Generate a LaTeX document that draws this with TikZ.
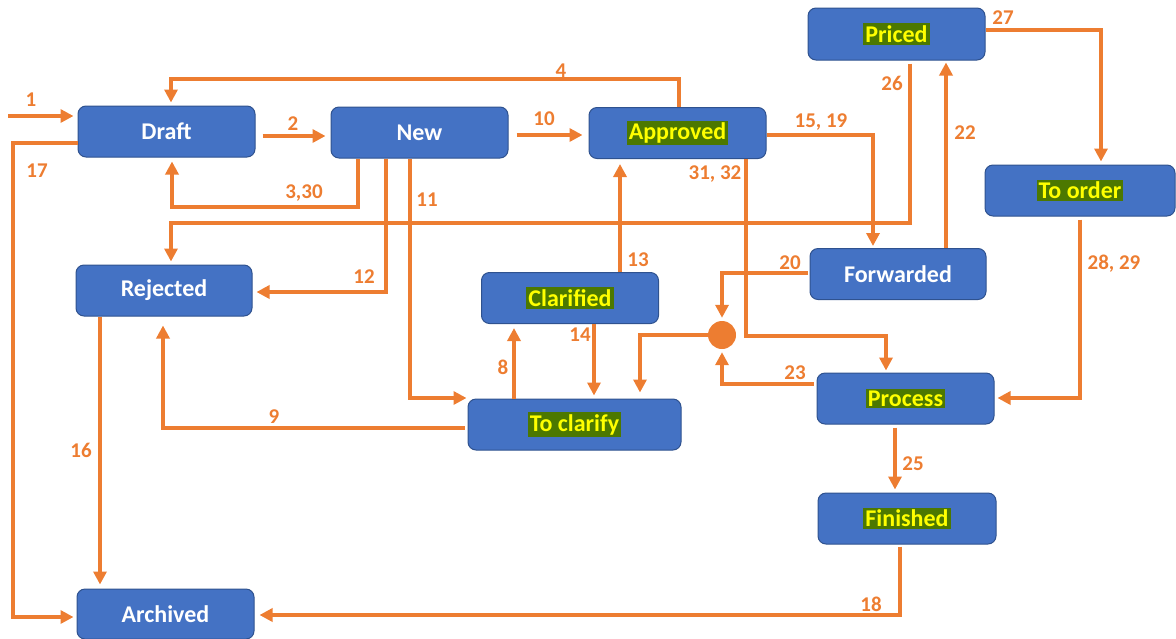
\documentclass[tikz,border=0pt]{standalone}
\usepackage{fontspec}
\setmainfont{Carlito}
\usetikzlibrary{arrows.meta}
\definecolor{orng}{HTML}{ED7D31}
\definecolor{boxblue}{HTML}{4472C4}
\definecolor{boxedge}{HTML}{2F528F}
\definecolor{hlgreen}{RGB}{76,120,0}
\definecolor{hlyellow}{HTML}{FFFF00}
\newcommand\hlt[1]{{\setlength{\fboxsep}{2pt}\colorbox{hlgreen}{\textcolor{hlyellow}{#1}}}}
\begin{document}
\begin{tikzpicture}[x=1pt,y=-1pt,
  stbox/.style={rounded corners=8pt, fill=boxblue, draw=boxedge, line width=1pt,
    minimum width=177pt, minimum height=51pt, inner sep=0pt, text=white,
    font=\fontsize{24}{28}\selectfont\bfseries},
  arr/.style={draw=orng, line width=3.5pt, -{Triangle[length=13pt,width=13pt]}},
  lbl/.style={text=orng, inner sep=0pt, font=\fontsize{21}{25}\selectfont\bfseries}]
\useasboundingbox (0,0) rectangle (1176,638);
% nodes
\node[stbox] (draft) at (166.5,131.5) {Draft};
\node[stbox] (new) at (419.5,132.5) {New};
\node[stbox] (approved) at (677.5,133) {\hlt{Approved}};
\node[stbox, minimum height=52pt] (priced) at (896.5,34) {\hlt{Priced}};
\node[stbox, minimum width=190pt] (toorder) at (1080,190.5) {\hlt{To order}};
\node[stbox, minimum width=176pt] (forwarded) at (898,274) {Forwarded};
\node[stbox, minimum width=176pt] (rejected) at (164,290.5) {Rejected};
\node[stbox] (clarified) at (570,298) {\hlt{Clarified}};
\node[stbox, minimum width=213pt] (toclarify) at (574.5,424.5) {\hlt{To clarify}};
\node[stbox] (process) at (905.5,398.5) {\hlt{Process}};
\node[stbox, minimum width=178pt] (finished) at (907,518.5) {\hlt{Finished}};
\node[stbox, minimum height=50pt] (archived) at (165.5,614) {Archived};
\node[circle, fill=orng, minimum size=28pt, inner sep=0pt] (dot) at (722,335) {};
\coordinate (s1) at (8,116);
% connectors
\draw[arr, shorten >=4pt] (s1) -- (draft.west |- s1);
\draw[arr, shorten <=7pt, shorten >=5pt] (draft.east |- 0,136) -- (new.west |- 0,136);
\draw[arr, shorten >=3pt] (approved.north -| 679,0) |- (171,79) -- (draft.north -| 171,0);
\draw[arr, shorten >=4pt] (new.south -| 358,0) |- (172,207) -- (draft.south -| 172,0);
\draw[arr, shorten <=8pt, shorten >=6pt] (new.east |- 0,135) -- (approved.west |- 0,135);
\draw[arr, shorten >=1pt] (new.south -| 410,0) |- (toclarify.west |- 0,398);
\draw[arr, shorten >=4pt] (new.south -| 386,0) |- (rejected.east |- 0,292);
\draw[arr, shorten <=3pt, shorten >=3pt] (priced.south -| 910,0) |- (171,223) -- (rejected.north -| 171,0);
\draw[arr, shorten >=5pt] (clarified.north -| 620,0) -- (approved.south -| 620,0);
\draw[arr, shorten >=2pt] (approved.south -| 746,0) |- (886,336) -- (process.north -| 886,0);
\draw[arr, shorten >=2pt] (approved.east |- 0,135) -| (forwarded.north -| 873,0);
\draw[arr, shorten >=2pt] (forwarded.north -| 946,0) -- (priced.south -| 946,0);
\draw[arr, shorten >=3pt] (priced.east |- 0,30) -| (toorder.north -| 1101,0);
\draw[arr, shorten <=3pt, shorten >=3pt] (toorder.south -| 1080,0) |- (process.east |- 0,398);
\draw[arr, shorten <=2pt, shorten >=3pt] (forwarded.west |- 0,273) -| (dot.north);
\draw[arr, shorten <=3pt, shorten >=3pt] (process.west |- 0,384) -| (dot.south);
\draw[arr, shorten >=6pt] (dot.west) -| (toclarify.north -| 640,0);
\draw[arr, shorten >=4pt] (toclarify.north -| 514,0) -- (clarified.south -| 514,0);
\draw[arr, shorten >=3pt] (clarified.south -| 594,0) -- (toclarify.north -| 594,0);
\draw[arr, shorten <=3pt, shorten >=9pt] (toclarify.west |- 0,428) -| (rejected.south -| 163,0);
\draw[arr, shorten >=4pt] (rejected.south -| 100,0) -- (archived.north -| 100,0);
\draw[arr, shorten >=3pt] (draft.west |- 0,143) -| (13,617) -- (archived.west |- 0,617);
\draw[arr, shorten <=2pt, shorten >=5pt] (finished.south -| 900,0) |- (archived.east |- 0,615);
\draw[arr, shorten <=3pt, shorten >=3pt] (process.south -| 895,0) -- (finished.north -| 895,0);
% labels
\node[lbl] (l1) at (31,100) {1};
\node[lbl] (l2) at (293,124) {2};
\node[lbl] (l4) at (561,71) {4};
\node[lbl] (l330) at (304,193) {3,30};
\node[lbl] (l10) at (544,119) {10};
\node[lbl] (l11) at (427,200) {11};
\node[lbl] (l12) at (364,277) {12};
\node[lbl] (l26) at (892,83) {26};
\node[lbl] (l13) at (638,260) {13};
\node[lbl] (l3132) at (715,174) {31, 32};
\node[lbl] (l1519) at (821,122) {15, 19};
\node[lbl] (l22) at (965,133) {22};
\node[lbl] (l27) at (1003,18) {27};
\node[lbl] (l2829) at (1114,264) {28, 29};
\node[lbl] (l20) at (790,263) {20};
\node[lbl] (l23) at (795,373) {23};
\node[lbl] (l8) at (503,367) {8};
\node[lbl] (l14) at (580,335) {14};
\node[lbl] (l9) at (274,417) {9};
\node[lbl] (l16) at (81,450) {16};
\node[lbl] (l17) at (37,171) {17};
\node[lbl] (l18) at (871,604) {18};
\node[lbl] (l25) at (913,464) {25};
\end{tikzpicture}
\end{document}
